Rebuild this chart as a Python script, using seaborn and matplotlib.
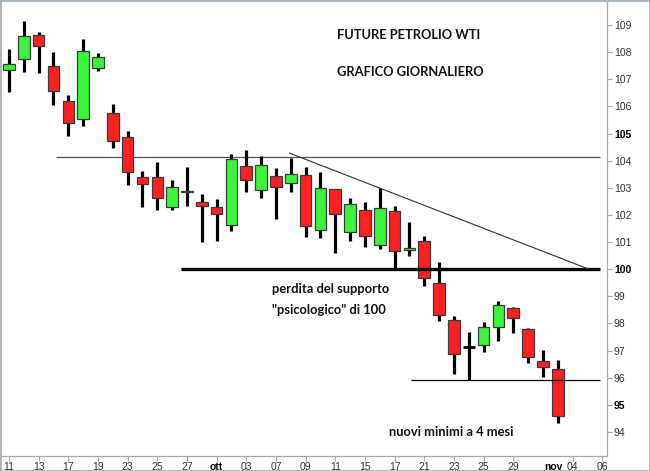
import numpy as np
import pandas as pd
import seaborn as sns
import matplotlib.pyplot as plt
from matplotlib.patches import Rectangle

# Dati giornalieri (future WTI), dall'11 settembre al 1 novembre
apertura = [107.34, 107.75, 108.63, 107.49, 106.20, 105.54, 107.41, 105.76, 104.87, 103.40,
            103.40, 102.29, 102.88, 102.48, 102.29, 101.63, 103.80, 102.92, 103.43, 103.18,
            103.47, 101.44, 102.95, 101.37, 102.18, 100.89, 102.14, 100.71, 101.04, 99.49,
            98.13, 97.13, 97.20, 97.87, 98.57, 97.79, 96.62, 96.32]
massimo = [108.12, 109.15, 108.74, 108.00, 106.42, 108.48, 107.97, 106.09, 105.09, 103.62,
           103.95, 103.29, 103.77, 102.77, 102.59, 104.25, 104.39, 104.17, 103.73, 104.10,
           103.77, 103.58, 102.95, 102.62, 102.48, 102.99, 102.33, 101.74, 101.22, 100.26,
           98.27, 97.68, 98.05, 98.83, 98.61, 97.83, 97.02, 96.65]
minimo = [106.53, 107.27, 107.23, 106.05, 104.91, 105.28, 107.30, 104.47, 103.10, 102.29,
          102.18, 102.18, 102.33, 101.00, 101.04, 101.41, 102.84, 102.62, 101.85, 102.84,
          101.19, 101.15, 100.60, 101.04, 100.82, 100.74, 99.97, 100.49, 99.38, 98.09,
          96.14, 95.91, 96.95, 97.35, 97.65, 96.54, 96.03, 94.33]
chiusura = [107.56, 108.59, 108.23, 106.57, 105.39, 108.04, 107.82, 104.72, 103.58, 103.14,
            102.62, 103.03, 102.84, 102.33, 102.03, 104.06, 103.29, 103.84, 103.03, 103.51,
            101.59, 102.99, 102.03, 102.40, 101.22, 102.25, 100.67, 100.78, 99.67, 98.31,
            96.87, 97.13, 97.87, 98.68, 98.20, 96.76, 96.39, 94.59]

# etichette asse x (indice della seduta)
tick_pos = [0, 2, 4, 6, 8, 10, 12, 14, 16, 18, 20, 22, 24, 26, 28, 30, 32, 34, 36.7, 38, 40]
tick_lab = ['11', '13', '17', '19', '23', '25', '27', 'ott', '03', '07', '09', '11', '15',
            '17', '21', '23', '25', '29', 'nov', '04', '06']
y_ticks = list(range(94, 110))

# linee disegnate sul grafico
resistenza = 104.13
supporto = 100.0
minimi = 95.91
trend_x = [18.9, 39.1]
trend_y = [104.28, 100.0]

df = pd.DataFrame({'open': apertura, 'high': massimo, 'low': minimo, 'close': chiusura})
df['x'] = np.arange(len(df))

sns.set_style('white')
plt.rcParams['font.family'] = ['Liberation Sans Narrow', 'Liberation Sans', 'DejaVu Sans']

fig = plt.figure(figsize=(6.5, 4.71), dpi=100)
ax = fig.add_axes([2 / 650, 15 / 471, 605 / 650, 454 / 471])

# stoppini
ax.vlines(df['x'], df['low'], df['high'], color='black', lw=2.3, zorder=2)

# corpi
su = df[df['close'] > df['open']]
giu = df[df['close'] < df['open']]
pari = df[df['close'] == df['open']]
ax.bar(su['x'], su['close'] - su['open'], bottom=su['open'], width=0.78,
       color='#3af53a', edgecolor='#3a3a3a', lw=0.9, zorder=3)
ax.bar(giu['x'], giu['open'] - giu['close'], bottom=giu['close'], width=0.78,
       color='#ff2020', edgecolor='#3a3a3a', lw=0.9, zorder=3)
ax.hlines(pari['close'], pari['x'] - 0.39, pari['x'] + 0.39, color='black', lw=2, zorder=3)

# linee orizzontali e trendline
ax.hlines(resistenza, 3.2, 39.85, color='#555555', lw=0.9, zorder=1)
ax.hlines(supporto, 11.6, 39.85, color='black', lw=2.4, zorder=4)
ax.hlines(minimi, 27.1, 39.85, color='black', lw=0.9, zorder=4)
sns.lineplot(x=trend_x, y=trend_y, ax=ax, color='#333333', lw=0.8, zorder=4)

# testi
tf = dict(family=['Lato', 'DejaVu Sans'], weight='bold', fontsize=9.3, color='#111111',
          ha='left', va='center')
ax.text(22.1, 108.63, 'FUTURE PETROLIO WTI', **tf)
ax.text(22.1, 107.27, 'GRAFICO GIORNALIERO', **tf)
ax.text(17.75, 99.25, 'perdita del supporto', **tf)
ax.text(17.75, 98.5, '"psicologico" di 100', **tf)
ax.text(25.6, 94.0, 'nuovi minimi a 4 mesi', **tf)

ax.set_xlim(-0.47, 40.32)
ax.set_ylim(93.11, 109.85)

for s in ['left', 'top']:
    ax.spines[s].set_visible(False)
for s in ['right', 'bottom']:
    ax.spines[s].set_color('#a8a8a8')
    ax.spines[s].set_linewidth(0.9)

ax.yaxis.tick_right()
ax.set_yticks(y_ticks)
ax.set_yticklabels([str(v) for v in y_ticks])
ax.set_xticks(tick_pos)
ax.set_xticklabels(tick_lab)
ax.tick_params(axis='both', length=3.5, width=0.8, color='#a8a8a8', labelsize=7.5,
               labelcolor='#333333')
ax.tick_params(axis='x', bottom=True, pad=0.5)
ax.tick_params(axis='y', right=True, pad=1.5)
for lab in ax.get_yticklabels():
    if lab.get_text() in ('95', '100', '105'):
        lab.set_fontweight('bold')
        lab.set_color('black')
for lab, t in zip(ax.get_xticklabels(), ax.xaxis.get_major_ticks()):
    if lab.get_text() in ('ott', 'nov'):
        lab.set_fontweight('bold')
        lab.set_color('black')
    if lab.get_text() == 'nov':
        t.tick1line.set_visible(False)

# cornice della figura
fig.patches.append(Rectangle((0, 0), 1, 1, transform=fig.transFigure, fill=False,
                             edgecolor='#aab4bc', lw=2))

fig.savefig('out.png', dpi=100)
